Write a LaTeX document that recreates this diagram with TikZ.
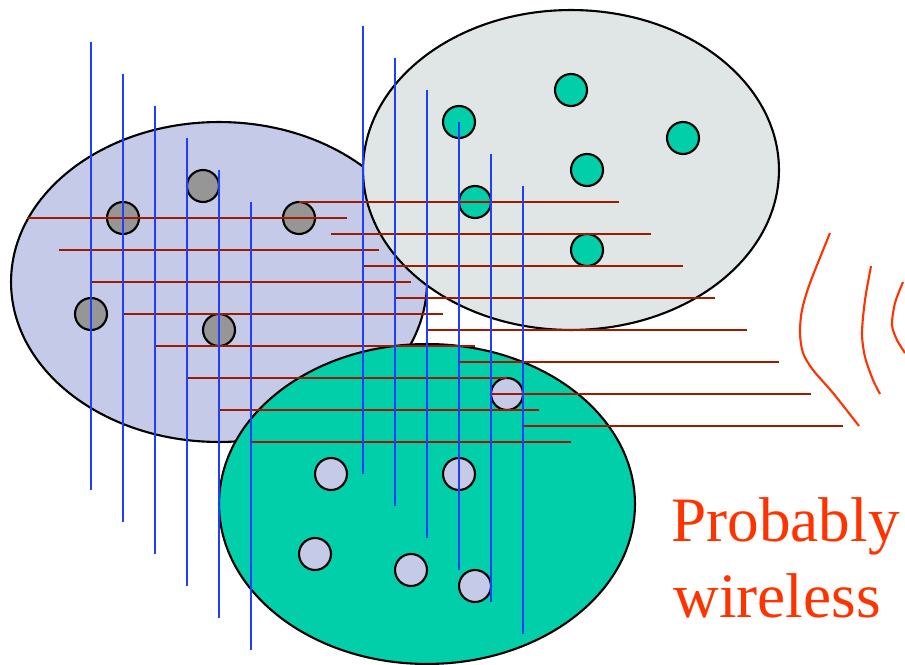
\documentclass[tikz,border=0pt]{standalone}
\usepackage{fontspec}
\setmainfont{Liberation Serif}
\usepackage{xcolor}
\definecolor{netlav}{HTML}{C5CAE8}
\definecolor{netgray}{HTML}{E0E6E6}
\definecolor{netteal}{HTML}{00CFA9}
\definecolor{hostgray}{HTML}{969696}
\definecolor{wireblue}{HTML}{1F3FFF}
\definecolor{wirered}{HTML}{A01A00}
\definecolor{radiored}{HTML}{FF3300}
\usepackage{tikz}
\usetikzlibrary{positioning,shapes.geometric}

\begin{document}
\begin{tikzpicture}[x=0.02cm,y=-0.02cm]
\tikzset{
 net/.style={draw=black,ellipse,line width=1.2pt,minimum width=8.32cm,minimum height=6.4cm,inner sep=0pt},
 host/.style={draw=black,circle,line width=1.2pt,minimum size=0.64cm,inner sep=0pt},
 vwire/.style={draw=wireblue,line width=1.3pt},
 hwire/.style={draw=wirered,line width=1.3pt},
 radio/.style={draw=radiored,line width=1.2pt},
 note/.style={text=radiored,inner sep=0pt,anchor=base west,font=\fontsize{36}{43}\selectfont}
}
\useasboundingbox (0,0) rectangle (905,665);
\node[net,fill=netlav] (lan1) at (219,282) {};
\node[net,fill=netgray] (lan2) at (571,170) {};
\node[net,fill=netteal] (lan3) at (427,504) {};
\node[host,fill=hostgray] (g1) at (203,186) {};
\node[host,fill=hostgray] (g2) at (123,218) {};
\node[host,fill=hostgray] (g3) at (299,218) {};
\node[host,fill=hostgray] (g4) at (91,314) {};
\node[host,fill=hostgray] (g5) at (219,330) {};
\node[host,fill=netteal] (t1) at (459,122) {};
\node[host,fill=netteal] (t2) at (571,90) {};
\node[host,fill=netteal] (t3) at (683,138) {};
\node[host,fill=netteal] (t4) at (587,170) {};
\node[host,fill=netteal] (t5) at (475,202) {};
\node[host,fill=netteal] (t6) at (587,250) {};
\node[host,fill=netlav] (l1) at (507,394) {};
\node[host,fill=netlav] (l2) at (331,474) {};
\node[host,fill=netlav] (l3) at (459,474) {};
\node[host,fill=netlav] (l4) at (315,554) {};
\node[host,fill=netlav] (l5) at (411,570) {};
\node[host,fill=netlav] (l6) at (475,586) {};
\foreach \i in {0,...,7}{
 \draw[hwire] (27+32*\i,218+32*\i) -- ++(320,0);
 \draw[hwire] (299+32*\i,202+32*\i) -- ++(320,0);
}
\foreach \i in {0,...,5}{
 \draw[vwire] (91+32*\i,42+32*\i) -- ++(0,448);
 \draw[vwire] (363+32*\i,26+32*\i) -- ++(0,448);
}
\draw[radio] plot[smooth] coordinates {(830,233) (810,283) (802,310) (800,333) (803,353) (813,370) (833,393) (859,426)};
\draw[radio] plot[smooth] coordinates {(871,266) (865,300) (862,333) (865,357) (873,380) (880,394)};
\draw[radio] plot[smooth] coordinates {(903,282) (895,303) (892,325) (897,340) (905,353)};
\node[note] (probably) at (671,541) {Probably};
\node[note] (wireless) at (673,617) {wireless};
\end{tikzpicture}
\end{document}
